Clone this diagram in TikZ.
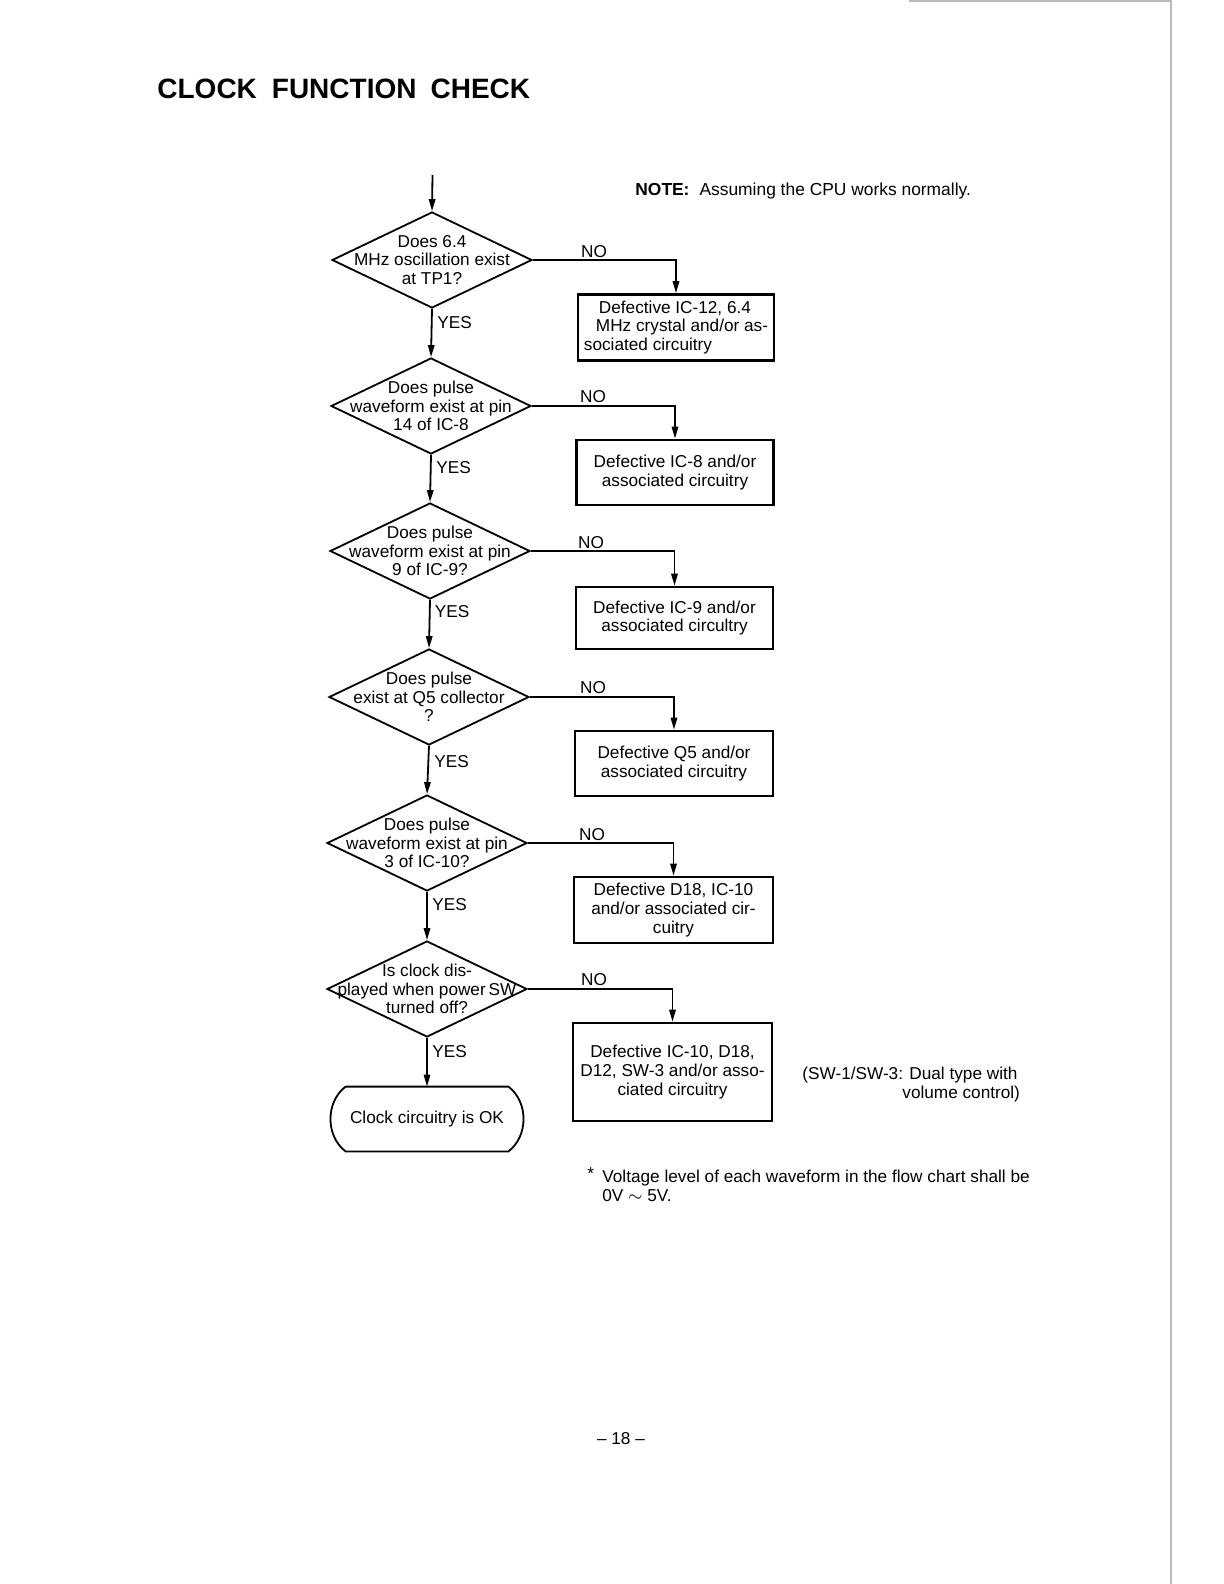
\documentclass[tikz,border=0pt]{standalone}
\usepackage{fontspec}
\setmainfont{Liberation Sans}
\usetikzlibrary{shapes.geometric,arrows.meta,calc}
\begin{document}
\begin{tikzpicture}[x=0.5pt,y=0.5pt,
  every node/.style={font=\fontsize{8.6}{9.3}\selectfont},
  dia/.style={shape=diamond, draw, line width=0.9pt, minimum width=100pt, minimum height=48pt, inner sep=0pt},
  dtext/.style={align=center, inner sep=0pt},
  box/.style={draw, line width=1.3pt, align=center, inner sep=0pt},
  term/.style={minimum width=81pt, minimum height=32pt, inner sep=0pt},
  conn/.style={line width=0.9pt, -{Triangle[length=6pt,width=3.2pt]}},
  lbl/.style={inner sep=0pt}
]
\useasboundingbox (0,0) rectangle (1224,-1584);

% page edge (scan)
\draw[gray!55, line width=0.6pt] (1171,0) -- (1171,-1584);
\draw[gray!55, line width=0.6pt] (909,-1) -- (1171,-1);

% title
\node[lbl, anchor=west, font=\fontsize{14}{16}\selectfont\bfseries] (title) at (157,-89)
  {CLOCK\hspace{7.5pt}FUNCTION\hspace{7pt}CHECK};
\node[lbl, anchor=west, font=\fontsize{8.7}{9.3}\selectfont] (note) at (635,-191)
  {\textbf{NOTE:}\hspace{5pt}Assuming the CPU works normally.};

% decisions
\node[dia] (d1) at (432,-260) {};
\node[dtext] (t1) at (d1) {Does 6.4\\MHz oscillation exist\\at TP1?};
\node[dia] (d2) at (431,-406) {};
\node[dtext] (t2) at (d2) {Does pulse\\waveform exist at pin\\14 of IC-8};
\node[dia] (d3) at (430,-551) {};
\node[dtext] (t3) at (d3) {Does pulse\\waveform exist at pin\\9 of IC-9?};
\node[dia] (d4) at (429,-697) {};
\node[dtext] (t4) at (d4) {Does pulse\\exist at Q5 collector\\?};
\node[dia] (d5) at (427,-843) {};
\node[dtext] (t5) at (d5) {Does pulse\\waveform exist at pin\\3 of IC-10?};
\node[dia] (d6) at (427,-989) {};
\node[dtext] (t6) at (d6) {Is clock dis-\\played when power\,SW\\turned off?};

% result boxes
\node[box, align=left, minimum width=98pt, minimum height=33pt] (b1) at (676,-327.5)
  {\hspace*{7.5pt}Defective IC-12, 6.4\\\hspace*{6pt}MHz crystal and/or as-\\sociated circuitry};
\node[box, minimum width=98.5pt, minimum height=32.5pt] (b2) at (675,-472.5)
  {Defective IC-8 and/or\\associated circuitry};
\node[box, minimum width=98.5pt, minimum height=31pt] (b3) at (674.5,-618)
  {Defective IC-9 and/or\\associated circultry};
\node[box, minimum width=99pt, minimum height=32.5pt] (b4) at (674,-763.5)
  {Defective Q5 and/or\\associated circuitry};
\node[box, minimum width=99.5pt, minimum height=33pt] (b5) at (673.5,-910)
  {Defective D18, IC-10\\and/or associated cir-\\cuitry};
\node[box, minimum width=99.5pt, minimum height=49pt] (b6) at (672.5,-1072)
  {Defective IC-10, D18,\\D12, SW-3 and/or asso-\\ciated circuitry};

% terminal
\node[term] (ok) at (427,-1119) {Clock circuitry is OK};
\draw[line width=0.9pt] (ok.north west) -- (ok.north east) to[bend left=53] (ok.south east)
  -- (ok.south west) to[bend left=53] (ok.north west);

% connectors
\coordinate (start) at (432.5,-175);
\draw[conn] (start) -- (d1.north);
\draw[conn] (d1.south) -- (d2.north);
\draw[conn] (d2.south) -- (d3.north);
\draw[conn] (d3.south) -- (d4.north);
\draw[conn] (d4.south) -- (d5.north);
\draw[conn] (d5.south) -- (d6.north);
\draw[conn] (d6.south) -- (ok.north);

\draw[conn] (d1.east) -| (b1.north);
\draw[conn] (d2.east) -| (b2.north);
\draw[conn] (d3.east) -| (b3.north);
\draw[conn] (d4.east) -| (b4.north);
\draw[conn] (d5.east) -| (b5.north);
\draw[conn] (d6.east) -| (b6.north);

% labels
\node[lbl] (no1) at (594,-252) {NO};
\node[lbl] (no2) at (593,-397) {NO};
\node[lbl] (no3) at (591,-543) {NO};
\node[lbl] (no4) at (593,-688) {NO};
\node[lbl] (no5) at (592,-835) {NO};
\node[lbl] (no6) at (594,-980) {NO};

\node[lbl, anchor=west] (y1) at (437,-323) {YES};
\node[lbl, anchor=west] (y2) at (436,-468) {YES};
\node[lbl, anchor=west] (y3) at (434.5,-612) {YES};
\node[lbl, anchor=west] (y4) at (434,-762) {YES};
\node[lbl, anchor=west] (y5) at (432,-905) {YES};
\node[lbl, anchor=west] (y6) at (432,-1052) {YES};

% notes
\node[lbl, anchor=west] (sw1) at (802,-1075) {(SW-1/SW-3: Dual type with};
\node[lbl, anchor=west] (sw2) at (902,-1094) {volume control)};
\node[lbl, anchor=west] (star) at (587,-1174) {*};
\node[lbl, anchor=west, align=left] (volt) at (602,-1186)
  {Voltage level of each waveform in the flow chart shall be\\0V $\sim$ 5V.};

\node[lbl] (page) at (621,-1439) {-- 18 --};
\end{tikzpicture}
\end{document}
